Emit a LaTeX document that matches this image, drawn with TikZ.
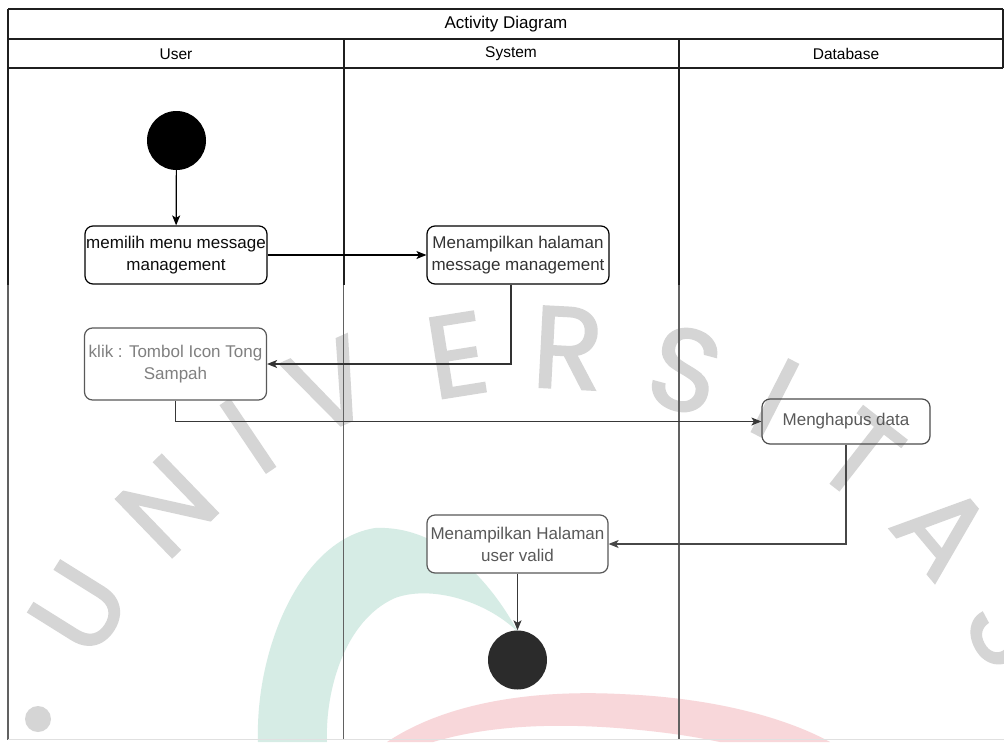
\documentclass[tikz,border=0pt]{standalone}
\usepackage{fontspec}
\setmainfont{Liberation Sans}
\newfontfamily\wmfont[FakeBold=1.8]{Poppins}
\usetikzlibrary{arrows.meta}
\definecolor{wmgreen}{HTML}{D6ECE5}
\definecolor{wmred}{HTML}{F8D7DA}
\definecolor{wmgray}{HTML}{D5D5D5}
\begin{document}
\begin{tikzpicture}[x=1pt,y=-1pt,
  laneup/.style={line width=1.2pt,draw=black!88},
  lanelow/.style={line width=1.2pt,draw=black!62},
  act/.style={draw,rounded corners=8pt,fill=white,line width=1.2pt,
    minimum width=182pt,inner sep=0pt,align=center,
    font=\fontsize{17}{22}\selectfont},
  dot/.style={circle,inner sep=0pt,minimum size=59pt},
  flow/.style={line width=1.2pt,-{Stealth[length=10pt,width=8pt,inset=2.5pt]}},
  wm/.style={text=wmgray,inner sep=0pt,
    font=\wmfont\fontsize{116}{116}\selectfont},
  hdr/.style={inner sep=0pt,font=\fontsize{15.5}{18}\selectfont}
]
\useasboundingbox (0,0) rectangle (1004,742);
\fill[white] (0,0) rectangle (1004,742);

% background crescents
\fill[wmgreen] (258,742) .. controls (255,650) and (300,540) .. (375,528)
  .. controls (440,525) and (490,580) .. (518,632)
  .. controls (485,600) and (430,585) .. (395,598)
  .. controls (345,620) and (325,690) .. (327,742) -- cycle;
\fill[wmred] (387,742) .. controls (450,700) and (540,690) .. (620,694)
  .. controls (720,698) and (790,720) .. (830,742) -- (720,742)
  .. controls (700,738) and (680,734) .. (640,730)
  .. controls (560,722) and (490,725) .. (433,742) -- cycle;

% background lettering along an arc
\fill[wmgray] (38,719) circle (13);
\node[wm,rotate=58] (wU) at (79,608) {U};
\node[wm,rotate=44] (wN) at (167,506) {N};
\node[wm,rotate=34] (wI) at (248,436) {I};
\node[wm,rotate=24] (wV) at (330,386) {V};
\node[wm,rotate=9] (wE) at (457,355) {E};
\node[wm,rotate=-3] (wR) at (568,348) {R};
\node[wm,rotate=-15] (wS) at (685,370) {S};
\node[wm,rotate=-27] (wI2) at (775,398) {I};
\node[wm,rotate=-38] (wT) at (860,455) {T};
\node[wm,rotate=-50] (wA) at (943,530) {A};
\node[wm,rotate=-62] (wS2) at (1012,628) {S};

% swimlane table
\draw[laneup] (8,9) -- (1003,9);
\draw[laneup] (8,39) -- (1003,39);
\draw[laneup] (8,68) -- (1003,68);
\draw[laneup] (1003,9) -- (1003,68);
\draw[laneup] (8,9) -- (8,285);
\draw[laneup] (344,39) -- (344,285);
\draw[laneup] (679,39) -- (679,285);
\draw[lanelow] (8,285) -- (8,740);
\draw[lanelow] (343.5,285) -- (343.5,740);
\draw[lanelow] (679,285) -- (679,740);
\draw[black!12,line width=0.8pt] (8,739.5) -- (1004,739.5);

\node[hdr,font=\fontsize{17}{20}\selectfont] (title) at (506,24) {Activity Diagram};
\node[hdr] (hUser) at (176,54) {User};
\node[hdr] (hSystem) at (511,54) {System};
\node[hdr] (hDb) at (846,54) {Database};

% activities
\node[dot,fill=black] (start) at (176.5,140.5) {};
\node[act,minimum height=58pt,text=black!95] (b1) at (176,255) {memilih menu message\\management};
\node[act,minimum height=58pt,text=black!80] (b2) at (518,255) {Menampilkan halaman\\message management};
\node[act,minimum height=72pt,draw=black!65,text=black!50] (b3) at (175.5,364) {klik : Tombol Icon Tong\\Sampah};
\node[act,fill=none,minimum width=168pt,minimum height=45pt,draw=black!70,text=black!65] (b4) at (846,421.5) {Menghapus data};
\node[act,minimum width=181pt,minimum height=58pt,draw=black!65,text=black!65] (b5) at (517.5,544) {Menampilkan Halaman\\user valid};
\node[dot,fill=black!83] (end) at (517.5,660) {};

% flows
\draw[flow] (start) -- (b1);
\draw[flow] (b1) -- (b2);
\draw[flow,black!80] ([xshift=-7pt]b2.south) |- (b3.east);
\draw[flow,black!78] (b3.south) |- (b4.west);
\draw[flow,black!72] (b4.south) |- (b5.east);
\draw[flow,black!78] (b5.south) -- (end.north);
\end{tikzpicture}
\end{document}
